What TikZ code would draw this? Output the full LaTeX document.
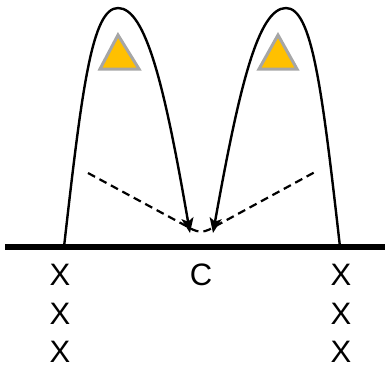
\documentclass[tikz,border=0pt]{standalone}
\usepackage{fontspec}
\setmainfont{Liberation Sans}
\usetikzlibrary{arrows.meta}
\definecolor{gold}{HTML}{FFC000}
\definecolor{rim}{HTML}{A6A6A6}

\begin{document}
\begin{tikzpicture}[x=1pt,y=1pt,font=\fontsize{31}{36}\selectfont,
  arch/.style={line width=2.4pt,-{Stealth[length=15pt,width=12pt,inset=3.5pt]}},
  peak/.style={draw=rim,fill=gold,line width=3pt},
  guess/.style={line width=2.2pt,dash pattern=on 8pt off 5pt,rounded corners=9pt}]
  \useasboundingbox (0,0) rectangle (385,368);
  % Ground
  \coordinate (gl) at (5,121); \coordinate (gr) at (385,121);
  \draw[line width=5.5pt] (gl) -- (gr);
  % Arches
  \coordinate (lfoot) at (64,121); \coordinate (ltop) at (118,360); \coordinate (ltip) at (190,135);
  \coordinate (rfoot) at (340,121); \coordinate (rtop) at (286,360); \coordinate (rtip) at (213,135);
  \draw[arch] (lfoot) .. controls (82,280) and (92,360) .. (ltop) .. controls (146,360) and (165,280) .. (ltip);
  \draw[arch] (rfoot) .. controls (322,280) and (312,360) .. (rtop) .. controls (258,360) and (239,280) .. (rtip);
  % Dashed paths
  \coordinate (dl) at (88,195); \coordinate (dm) at (201,134); \coordinate (dr) at (315,196);
  \draw[guess] (dl) -- (dm) -- (dr);
  % Triangles
  \draw[peak] (118,333) -- (139,299) -- (100,299) -- cycle;
  \draw[peak] (278,333) -- (297,299) -- (259,299) -- cycle;
  % Labels
  \node (c) at (201,93) {C};
  \foreach \r/\y in {1/93,2/54,3/16} {
    \node (xl\r) at (60,\y) {X};
    \node (xr\r) at (341,\y) {X};
  }
\end{tikzpicture}
\end{document}
